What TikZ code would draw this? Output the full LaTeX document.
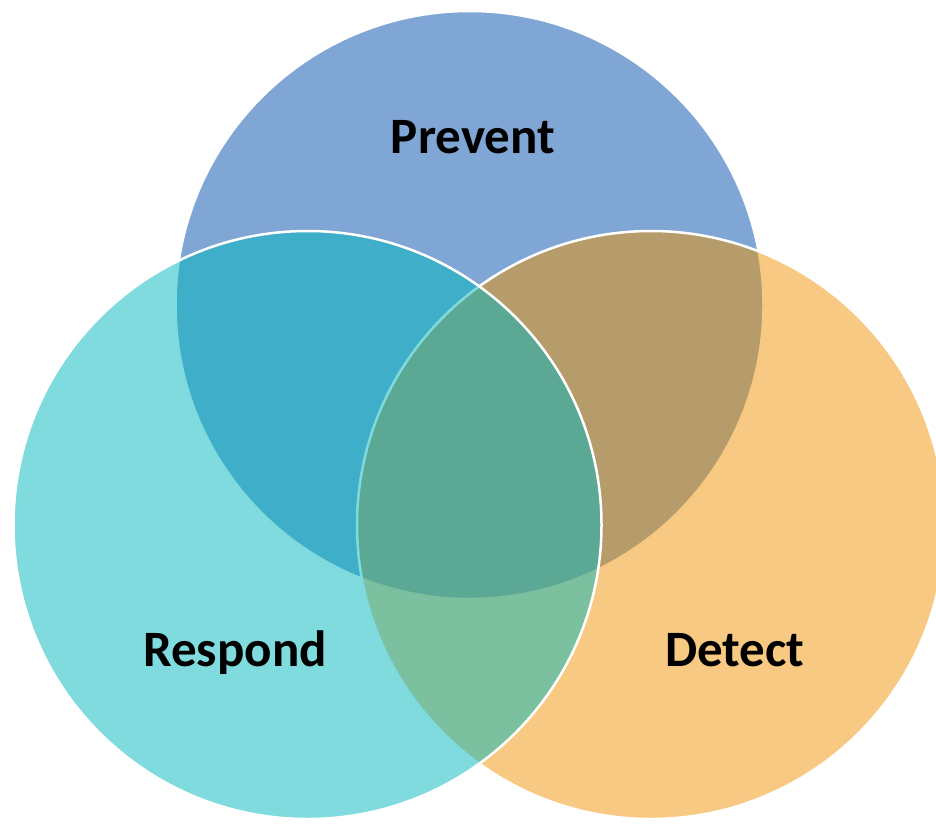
\documentclass[tikz,border=0pt]{standalone}
\usepackage{fontspec}
\setmainfont{Carlito}
\definecolor{preventc}{RGB}{0,77,169}
\definecolor{detectc}{RGB}{241,147,5}
\definecolor{respondc}{RGB}{0,183,189}
\begin{document}
\begin{tikzpicture}[x=1pt,y=-1pt,
  setcircle/.style={circle, minimum size=588pt, inner sep=0pt, fill opacity=0.5,
    draw=white, draw opacity=1, line width=2.5pt},
  setlabel/.style={font=\fontsize{51}{60}\selectfont\bfseries, text=black,
    anchor=base, inner sep=0pt, text opacity=1}]
\useasboundingbox (0,0) rectangle (936,823);
% three overlapping sets, drawn back to front
\node[setcircle, fill=preventc] (prevent) at (469.5,305) {};
\node[setcircle, fill=detectc]  (detect)  at (651,525) {};
\node[setcircle, fill=respondc] (respond) at (307.5,525) {};
% set names
\node[setlabel] (lprevent) at (473,153) {Prevent};
\node[setlabel] (lrespond) at (235,666) {Respond};
\node[setlabel] (ldetect)  at (735,666) {Detect};
\end{tikzpicture}
\end{document}
